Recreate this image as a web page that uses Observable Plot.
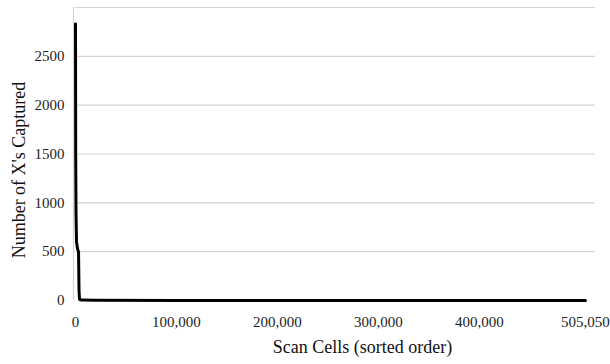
<!DOCTYPE html>
<html>
<head>
<meta charset="utf-8">
<script src="https://cdn.jsdelivr.net/npm/d3@7"></script>
<script src="https://cdn.jsdelivr.net/npm/@observablehq/plot@0.6"></script>
<style>
  html, body { margin: 0; padding: 0; background: #fff; }
  #chart svg text { font-family: "Liberation Serif", "Times New Roman", serif !important; }
</style>
</head>
<body>
<div id="chart"></div>
<script>
// Scan cell index (sorted by X's captured, descending)
const cellIndex = [0, 200, 500, 1000, 2000, 3000, 3500, 4000, 6000, 20000, 100000, 300000, 505050];
// Number of X's captured at that cell
const xsCaptured = [2830, 1500, 900, 600, 530, 500, 100, 10, 4, 2, 1, 0, 0];

const xTicks = [0, 100000, 200000, 300000, 400000, 505050];
const yTicks = [0, 500, 1000, 1500, 2000, 2500];
const yGridValues = [500, 1000, 1500, 2000, 2500, 3000];
const xTitle = "Scan Cells (sorted order)";
const yTitle = "Number of X's Captured";

const data = cellIndex.map((c, i) => ({cell: c, xs: xsCaptured[i]}));
const serif = "Liberation Serif, Times New Roman, serif";

const chart = Plot.plot({
  width: 610,
  height: 364,
  marginLeft: 75,
  marginRight: 15,
  marginTop: 7,
  marginBottom: 64,
  style: {fontFamily: serif, fontSize: "15px", color: "#222", background: "#fff"},
  x: {domain: [0, 515000], nice: false},
  y: {domain: [0, 3000], nice: false},
  marks: [
    Plot.gridY(yGridValues, {stroke: "#d4d4d4", strokeOpacity: 1, strokeWidth: 1.2}),
    Plot.ruleX([0], {stroke: "#d4d4d4", strokeWidth: 1.2, dx: -2}),
    Plot.axisY({ticks: yTicks, tickSize: 0, tickPadding: 11, tickFormat: d => String(d), label: null, fontSize: 15, fill: "#222"}),
    Plot.axisX({ticks: xTicks, tickSize: 0, tickPadding: 16, tickFormat: d3.format(","), label: null, fontSize: 15, fill: "#222"}),
    Plot.line(data, {x: "cell", y: "xs", stroke: "#000", strokeWidth: 3}),
    Plot.text([xTitle], {frameAnchor: "bottom", textAnchor: "middle", dx: 27, dy: 52, fontSize: 18, fill: "#111"}),
    Plot.text([yTitle], {frameAnchor: "left", textAnchor: "middle", lineAnchor: "middle", rotate: -90, dx: -56, dy: 16, fontSize: 18, fill: "#111"})
  ]
});
document.getElementById("chart").append(chart);
</script>
</body>
</html>
